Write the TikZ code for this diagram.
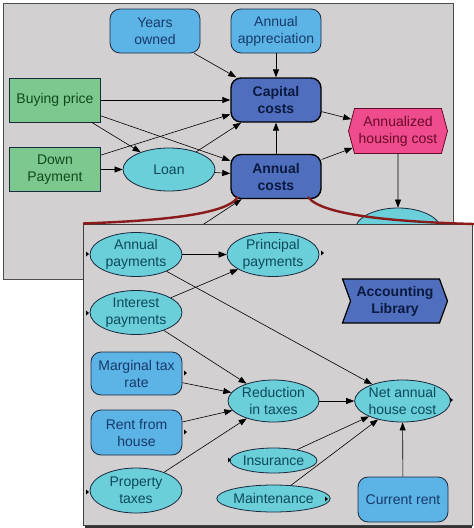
\documentclass[tikz,border=0pt]{standalone}
\usepackage{fontspec}
\setmainfont{Liberation Sans}
\usetikzlibrary{arrows.meta,shapes.geometric,shapes.symbols}
\definecolor{panel}{HTML}{D2D0D0}
\definecolor{lblue}{HTML}{5CB3E6}
\definecolor{navytxt}{HTML}{173A6A}
\definecolor{cyanfill}{HTML}{6ACFD9}
\definecolor{tealtxt}{HTML}{0C4A5A}
\definecolor{greenfill}{HTML}{7CC88E}
\definecolor{greentxt}{HTML}{0F4A1E}
\definecolor{dblue}{HTML}{4F6EBE}
\definecolor{dbtxt}{HTML}{0B1A40}
\definecolor{pinkfill}{HTML}{EE4C8C}
\definecolor{pinktxt}{HTML}{6A0A2A}
\definecolor{curve}{HTML}{8B1A1A}
\definecolor{edge}{HTML}{1A2A40}
\begin{document}
\begin{tikzpicture}[x=1pt,y=-1pt,
  base/.style={align=center,font=\fontsize{14}{17}\selectfont,inner sep=0pt,line width=0.8pt},
  lbox/.style={base,rectangle,rounded corners=10pt,draw=edge,fill=lblue,text=navytxt,minimum width=90,minimum height=44},
  gbox/.style={base,rectangle,draw=edge,fill=greenfill,text=greentxt,minimum width=91,minimum height=44},
  dbox/.style={base,rectangle,rounded corners=10pt,draw=black,line width=1.4pt,fill=dblue,text=dbtxt,font=\fontsize{14}{17}\selectfont\bfseries,minimum width=90,minimum height=44},
  ell/.style={base,ellipse,draw=edge,fill=cyanfill,text=tealtxt,minimum width=92,minimum height=44},
  arr/.style={-{Triangle[length=8pt,width=6pt]},line width=0.6pt,black},
  mk/.pic={\fill[black] (0,-2.5)--(3,0)--(0,2.5)--cycle;}
]
\path[use as bounding box] (0,0) rectangle (474,528);
% top panel
\draw[fill=panel,draw=black!70,line width=0.8pt] (3,3) rectangle (453,279);
\node[lbox] (yo) at (155,31) {Years\\owned};
\node[lbox] (aa) at (276,31) {Annual\\appreciation};
\node[dbox] (cap) at (276,100) {Capital\\costs};
\node[dbox] (ac) at (276,176.5) {Annual\\costs};
\node[gbox] (bp) at (55,100) {Buying price};
\node[gbox] (dp) at (55,169.5) {Down\\Payment};
\node[ell,minimum height=43] (loan) at (169,169.5) {Loan};
\node[base,signal,signal to=west and east,signal pointer angle=150,draw=pinktxt,fill=pinkfill,text=pinktxt,minimum width=99,minimum height=45] (ahc) at (398,131) {Annualized\\housing cost};
\node[ell,minimum width=86] (hid) at (398,230) {};
\coordinate (hsrc) at (175,243);
\draw[arr] (yo) -- (cap);
\draw[arr] (aa) -- (cap);
\draw[arr] (bp) -- (cap);
\draw[arr] (bp) -- (ac);
\draw[arr] (bp) -- (loan);
\draw[arr] (dp) -- (cap);
\draw[arr] (dp) -- (loan);
\draw[arr] (loan) -- (cap);
\draw[arr] (loan) -- (ac);
\draw[arr] (ac) -- (cap);
\draw[arr] (cap) -- (ahc);
\draw[arr] (ac) -- (ahc);
\draw[arr] (ahc) -- (hid);
\draw[arr] (hsrc) -- (ac);
% bottom panel
\fill[black!80] (85,524) rectangle (472,528);
\draw[fill=panel,draw=black!75,line width=0.8pt] (83,224) rectangle (472,525);
\draw[curve,line width=2.4pt] (238,197) .. controls (226,216) and (150,221) .. (83,223.5);
\draw[curve,line width=2.4pt] (308,197) .. controls (322,216) and (400,222) .. (474,224);
% bottom nodes
\node[ell] (ap) at (136,254.5) {Annual\\payments};
\node[ell] (pp) at (273,254.5) {Principal\\payments};
\node[ell] (ip) at (136,312.5) {Interest\\payments};
\node[base,signal,signal from=west,signal to=east,signal pointer angle=140,draw=black,line width=1.2pt,fill=dblue,text=dbtxt,font=\fontsize{14}{17}\selectfont\bfseries,minimum width=105,minimum height=44] (lib) at (395,301) {Accounting\\Library};
\node[lbox,minimum width=91,minimum height=43] (mtr) at (136.5,373.5) {Marginal tax\\rate};
\node[lbox,minimum width=91,minimum height=45] (rfh) at (136.5,432.5) {Rent from\\house};
\node[ell,minimum height=45] (pt) at (136,490.5) {Property\\taxes};
\node[ell,minimum width=91,minimum height=42] (rit) at (273.5,401) {Reduction\\in taxes};
\node[ell,minimum width=91,minimum height=42] (nah) at (402.5,401) {Net annual\\house cost};
\node[ell,minimum width=83,minimum height=25] (ins) at (273.5,460.5) {Insurance};
\node[ell,minimum width=99,minimum height=27] (mnt) at (273.5,498.5) {Maintenance};
\node[lbox,minimum width=90,minimum height=45] (cr) at (403,499.5) {Current rent};
\draw[arr] (ap) -- (pp);
\draw[arr] (ap) -- (nah);
\draw[arr] (ip) -- (pp);
\draw[arr] (ip) -- (rit);
\draw[arr] (mtr) -- (rit);
\draw[arr] (rfh) -- (rit);
\draw[arr] (pt) -- (rit);
\draw[arr] (rit) -- (nah);
\draw[arr] (ins) -- (nah);
\draw[arr] (mnt) -- (nah);
\draw[arr] (cr) -- (nah);
% small markers
\pic at (86,254) {mk};
\pic at (86,313) {mk};
\pic at (86,492) {mk};
\pic at (321,253) {mk};
\pic at (184,373) {mk};
\pic at (184,432) {mk};
\pic at (228,460) {mk};
\pic at (325,499) {mk};
\pic at (450,400) {mk};
\end{tikzpicture}
\end{document}
